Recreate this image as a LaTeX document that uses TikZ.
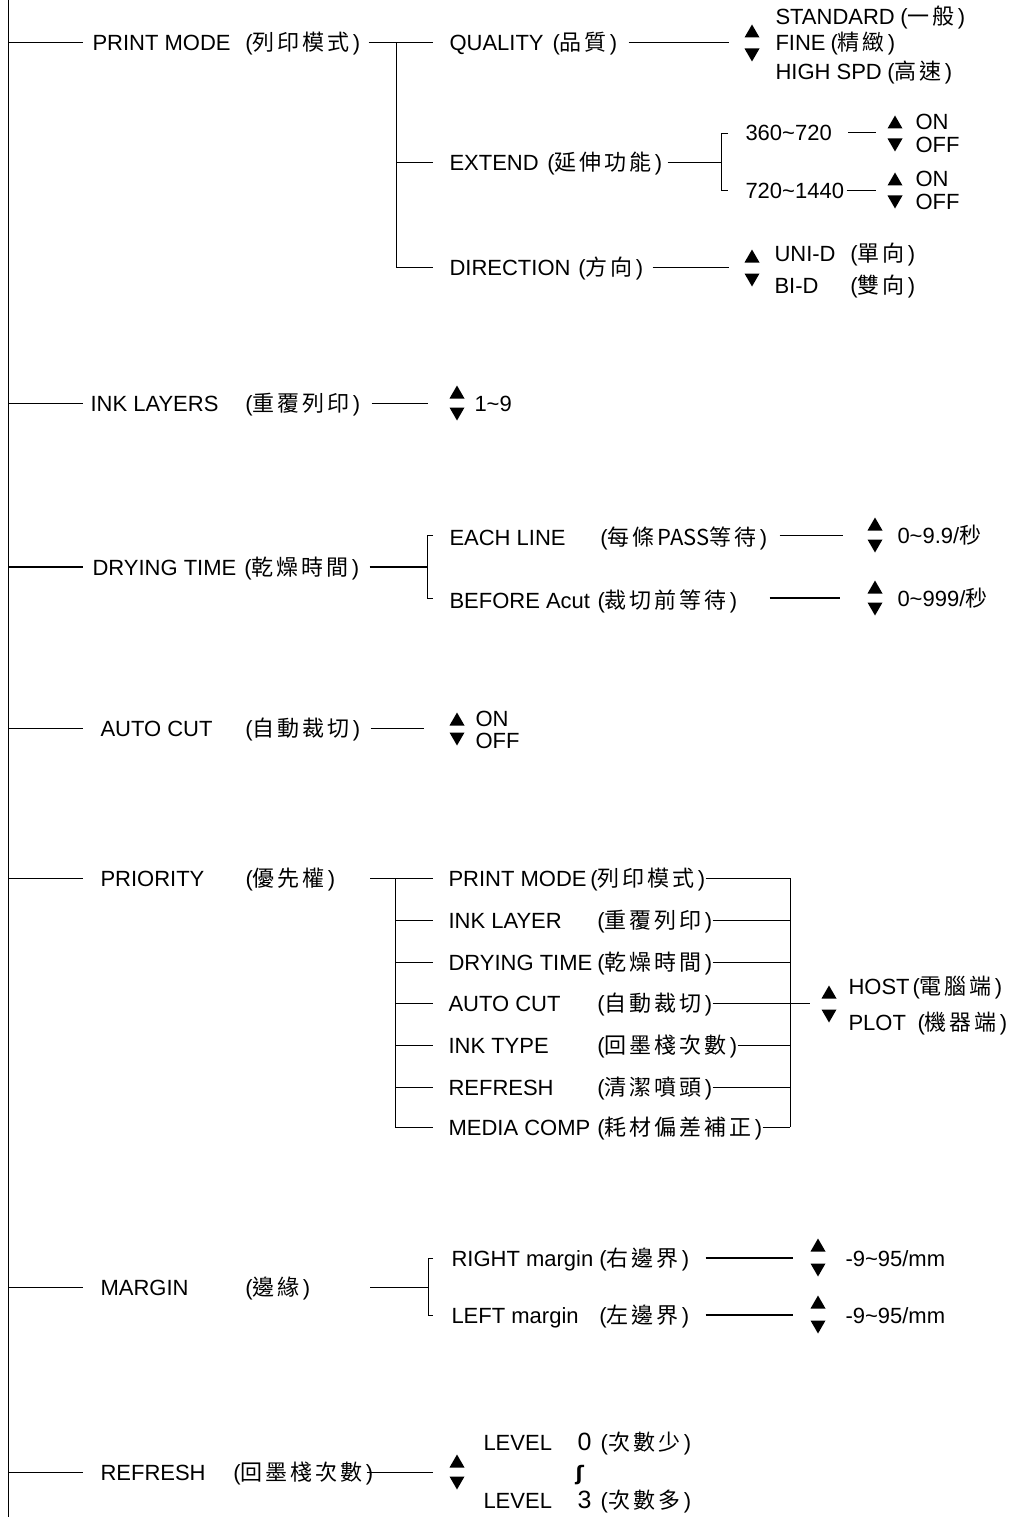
\documentclass[tikz,border=0pt]{standalone}
\usepackage{fontspec}
\setmainfont{Liberation Sans}
\newfontfamily\cjkf{Noto Sans CJK TC}
\newfontfamily\symf{DejaVu Sans}
\newdimen\cjsp \cjsp=3pt
\def\cj#1{{\cjkf\cjloop#1\relax}}
\def\cjloop#1{\ifx\relax#1\else#1\kern\cjsp\expandafter\cjloop\fi}
\newcommand\tl{\textasciitilde}
\tikzset{
  lab/.style={anchor=west, inner sep=0pt, text height=16pt, text depth=0pt, font=\fontsize{22}{26}\selectfont},
  thk/.style={line width=1.8pt},
  tri up/.pic={\fill (-7.5,6.5) -- (7.5,6.5) -- (0,-6.5) -- cycle;},
  tri dn/.pic={\fill (-7.5,-6.5) -- (7.5,-6.5) -- (0,6.5) -- cycle;},
}
\begin{document}
\begin{tikzpicture}[x=1pt,y=-1pt,line width=1pt]
\fill[white] (0,0) rectangle (1010,1517);
\useasboundingbox (0,0) rectangle (1010,1517);
% spine
\coordinate (spT) at (8,0);
\coordinate (spB) at (8,1517);
\draw (spT) -- (spB);

% ---------- PRINT MODE ----------
\node[lab] (pm) at (92,43) {\makebox[153pt][l]{PRINT MODE}(\cj{列印模式})};
\draw (spT |- pm) -- ([xshift=-9pt]pm.west);
\coordinate (pmJ) at (396,43);
\draw ([xshift=8pt]pm.east) -- (433,43);
\draw (pmJ) -- (396,267) -- (433,267);
\draw (396,163) -- (433,163);

\node[lab] (q) at (449,43) {\makebox[103pt][l]{QUALITY}(\cj{品質})};
\draw ([xshift=11pt]q.east) -- (729,43);
\pic at (752,31) {tri up};
\pic at (752,55) {tri dn};
\node[lab] (st) at (775,17) {\makebox[125pt][l]{STANDARD}(\cj{一般})};
\node[lab] (fi) at (775,43) {\makebox[55pt][l]{FINE}(\cj{精緻})};
\node[lab] (hs) at (775,72) {\makebox[112pt][l]{HIGH SPD}(\cj{高速})};

\node[lab] (ex) at (449,163) {\makebox[98pt][l]{EXTEND}(\cj{延伸功能})};
\draw ([xshift=5pt]ex.east) -- (721,163);
\draw (728,134) -- (721,134) -- (721,191) -- (728,191);
\node[lab] (e1) at (745,133) {360\tl720};
\draw (848,133) -- (876,133);
\node[lab] (e2) at (745,191) {720\tl1440};
\draw ([xshift=2pt]e2.east) -- (876,191);
\pic at (895,122) {tri up};
\pic at (895,145) {tri dn};
\node[lab] (on1) at (915,122) {ON};
\node[lab] (of1) at (915,145) {OFF};
\pic at (895,179) {tri up};
\pic at (895,202) {tri dn};
\node[lab] (on2) at (915,179) {ON};
\node[lab] (of2) at (915,202) {OFF};

\node[lab] (di) at (449,267) {\makebox[129pt][l]{DIRECTION}(\cj{方向})};
\draw ([xshift=9pt]di.east) -- (729,267);
\pic at (752,256) {tri up};
\pic at (752,280) {tri dn};
\node[lab] (ud) at (774,253) {\makebox[76pt][l]{UNI-D}(\cj{單向})};
\node[lab] (bd) at (774,285) {\makebox[76pt][l]{BI-D}(\cj{雙向})};

% ---------- INK LAYERS ----------
\node[lab] (il) at (90,403) {\makebox[155pt][l]{INK LAYERS}(\cj{重覆列印})};
\draw (spT |- il) -- ([xshift=-7pt]il.west);
\draw ([xshift=11pt]il.east) -- (428,403);
\pic at (457,392) {tri up};
\pic at (457,414) {tri dn};
\node[lab] (iv) at (474,403) {1\tl9};

% ---------- DRYING TIME ----------
\node[lab] (dt) at (92,567) {\makebox[152pt][l]{DRYING TIME}(\cj{乾燥時間})};
\draw[thk] (spT |- dt) -- ([xshift=-9pt]dt.west);
\draw[thk] ([xshift=10pt]dt.east) -- (427,567);
\draw (433,535) -- (427,535) -- (427,598) -- (433,598);
\node[lab] (el) at (449,537) {\makebox[151pt][l]{EACH LINE}(\cj{每條}{\cjkf PASS}\cj{等待})};
\draw ([xshift=12pt]el.east |- 0,535) -- (843,535);
\pic at (875,524) {tri up};
\pic at (875,546) {tri dn};
\node[lab] (ev) at (897,535) {0\tl9.9/\cj{秒}};
\node[lab] (bf) at (449,600) {\makebox[148pt][l]{BEFORE Acut}(\cj{裁切前等待})};
\draw[thk] ([xshift=32pt]bf.east |- 0,598) -- (840,598);
\pic at (875,587) {tri up};
\pic at (875,609) {tri dn};
\node[lab] (bv) at (897,598) {0\tl999/\cj{秒}};

% ---------- AUTO CUT ----------
\node[lab] (ac) at (100,728) {\makebox[145pt][l]{AUTO CUT}(\cj{自動裁切})};
\draw (spT |- ac) -- ([xshift=-17pt]ac.west);
\draw ([xshift=10pt]ac.east) -- (424,728);
\pic at (457,719) {tri up};
\pic at (457,739) {tri dn};
\node[lab] (aon) at (475,718) {ON};
\node[lab] (aof) at (475,740) {OFF};

% ---------- PRIORITY ----------
\node[lab] (pr) at (100,878) {\makebox[145pt][l]{PRIORITY}(\cj{優先權})};
\draw (spT |- pr) -- ([xshift=-17pt]pr.west);
\coordinate (prJ) at (395,878);
\draw (370,878) -- (433,878);
\draw (prJ) -- (395,1127) -- (433,1127);
\foreach \y in {920,962,1003,1045,1087} \draw (395,\y) -- (433,\y);
\node[lab] (p1) at (448,878) {\makebox[142pt][l]{PRINT MODE}(\cj{列印模式})};
\node[lab] (p2) at (448,920) {\makebox[149pt][l]{INK LAYER}(\cj{重覆列印})};
\node[lab] (p3) at (448,962) {\makebox[149pt][l]{DRYING TIME}(\cj{乾燥時間})};
\node[lab] (p4) at (448,1003) {\makebox[149pt][l]{AUTO CUT}(\cj{自動裁切})};
\node[lab] (p5) at (448,1045) {\makebox[149pt][l]{INK TYPE}(\cj{回墨棧次數})};
\node[lab] (p6) at (448,1087) {\makebox[149pt][l]{REFRESH}(\cj{清潔噴頭})};
\node[lab] (p7) at (448,1127) {\makebox[149pt][l]{MEDIA COMP}(\cj{耗材偏差補正})};
\coordinate (hp) at (790,878);
\foreach \n in {p1,p2,p3,p5,p6,p7} \draw (\n.east) -- (hp |- \n);
\draw (p4.east) -- (810,1003);
\draw (hp) -- (790,1127);
\pic at (829,992) {tri up};
\pic at (829,1016) {tri dn};
\node[lab] (ho) at (848,986) {\makebox[64pt][l]{HOST}(\cj{電腦端})};
\node[lab] (pl) at (848,1022) {\makebox[69pt][l]{PLOT}(\cj{機器端})};

% ---------- MARGIN ----------
\node[lab] (mg) at (100,1287) {\makebox[145pt][l]{MARGIN}(\cj{邊緣})};
\draw (spT |- mg) -- ([xshift=-17pt]mg.west);
\draw (370,1287) -- (428,1287);
\draw (433,1258) -- (428,1258) -- (428,1315) -- (433,1315);
\node[lab] (m1) at (451,1258) {\makebox[148pt][l]{RIGHT margin}(\cj{右邊界})};
\draw[thk] ([xshift=16pt]m1.east) -- (793,1258);
\pic at (818,1245) {tri up};
\pic at (818,1270) {tri dn};
\node[lab] (mv1) at (845,1258) {-9\tl95/mm};
\node[lab] (m2) at (451,1315) {\makebox[148pt][l]{LEFT margin}(\cj{左邊界})};
\draw[thk] ([xshift=16pt]m2.east) -- (793,1315);
\pic at (818,1302) {tri up};
\pic at (818,1327) {tri dn};
\node[lab] (mv2) at (845,1315) {-9\tl95/mm};

% ---------- REFRESH ----------
\node[lab] (rf) at (100,1472) {\makebox[133pt][l]{REFRESH}(\cj{回墨棧次數})};
\draw (spT |- rf) -- ([xshift=-17pt]rf.west);
\draw ([xshift=-7pt]rf.east) -- (433,1472);
\pic at (457,1461) {tri up};
\pic at (457,1483) {tri dn};
\node[lab] (lv0) at (483,1442) {\makebox[94pt][l]{LEVEL}\makebox[23pt][l]{\fontsize{25}{28}\selectfont 0}(\kern1pt\cj{次數少})};
\node[lab] (wv) at (575,1472) {{\symf\bfseries\fontsize{20}{24}\selectfont ʃ}};
\node[lab] (lv3) at (483,1500) {\makebox[94pt][l]{LEVEL}\makebox[23pt][l]{\fontsize{25}{28}\selectfont 3}(\kern1pt\cj{次數多})};
\end{tikzpicture}
\end{document}
